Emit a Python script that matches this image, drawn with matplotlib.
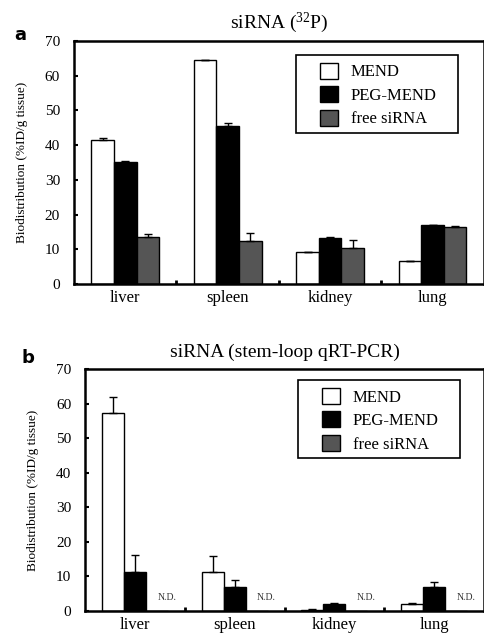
import numpy as np
import matplotlib.pyplot as plt
from matplotlib.patches import Rectangle

organs = ['liver', 'spleen', 'kidney', 'lung']
series = ['MEND', 'PEG-MEND', 'free siRNA']
colors = ['white', 'black', '#555555']

# panel a: siRNA (32P)
a_mend = [41.5, 64.5, 9.2, 6.5]
a_mend_err = [0.5, 0.0, 0.0, 0.0]
a_peg = [35.2, 45.5, 13.2, 17.0]
a_peg_err = [0.2, 0.8, 0.2, 0.1]
a_free = [13.5, 12.5, 10.5, 16.3]
a_free_err = [1.0, 2.3, 2.2, 0.4]

# panel b: stem-loop qRT-PCR (free siRNA not detected)
b_mend = [57.3, 11.3, 0.4, 2.0]
b_mend_err = [4.5, 4.7, 0.1, 0.4]
b_peg = [11.3, 7.0, 2.0, 7.0]
b_peg_err = [4.9, 2.1, 0.3, 1.3]
b_free = [np.nan, np.nan, np.nan, np.nan]
b_free_err = [0, 0, 0, 0]

serif = ['Liberation Serif', 'DejaVu Serif']
plt.rcParams['mathtext.fontset'] = 'custom'
plt.rcParams['mathtext.rm'] = 'Liberation Serif'

fig = plt.figure(figsize=(4.85, 6.35), dpi=100)


def draw_panel(ax, vals, errs, title, letter, letter_pos, box, leg_anchor, nd=False):
    x = np.arange(len(organs))
    w = 0.22
    for i, (v, e) in enumerate(zip(vals, errs)):
        pos = x + (i - 1) * w
        v = np.array(v, dtype=float)
        ax.bar(pos, np.nan_to_num(v), w, color=colors[i], edgecolor='black',
               linewidth=1.0, label=series[i], zorder=2)
        ok = ~np.isnan(v)
        ax.errorbar(pos[ok], v[ok], yerr=[np.zeros(ok.sum()), np.array(e)[ok]],
                    fmt='none', ecolor='black', elinewidth=1.0, capsize=3,
                    capthick=1.0, zorder=3)
        if nd:
            for p, vv in zip(pos, v):
                if np.isnan(vv):
                    ax.text(p + 0.1, 2.5, 'N.D.', family=serif, fontsize=7,
                            ha='center', va='bottom', color='#333333')
    ax.set_xlim(-0.5, len(organs) - 0.5)
    ax.set_ylim(0, 70)
    ax.set_yticks(np.arange(0, 71, 10))
    ax.set_xticks(x)
    ax.set_xticklabels(organs, family=serif, fontsize=12)
    ax.set_xticks(x[:-1] + 0.5, minor=True)
    ax.tick_params(axis='x', which='major', length=0, pad=4)
    ax.tick_params(axis='x', which='minor', direction='in', length=3, width=2)
    ax.tick_params(axis='y', direction='in', length=3, width=1.5, labelsize=11,
                   pad=10)
    for lab in ax.get_yticklabels():
        lab.set_family(serif)
    for s in ax.spines.values():
        s.set_linewidth(1.8)
    ax.set_ylabel('Biodistribution (%ID/g tissue)', family=serif, fontsize=9.5,
                  labelpad=12)
    ax.set_title(title, family=serif, fontsize=14, pad=9)

    # legend box drawn separately so its padding matches the original
    x0, y0, x1, y1 = box
    ax.add_patch(Rectangle((x0, y0), x1 - x0, y1 - y0, transform=ax.transAxes,
                           facecolor='white', edgecolor='black', linewidth=1.2,
                           zorder=4))
    leg = ax.legend(loc='upper left', bbox_to_anchor=leg_anchor,
                    prop={'family': serif, 'size': 12}, frameon=False,
                    handlelength=1.1, handleheight=1.1, borderpad=0,
                    labelspacing=0.35, handletextpad=0.75, borderaxespad=0)
    leg.set_zorder(5)
    ax.text(letter_pos[0], letter_pos[1], letter, transform=ax.transAxes,
            fontsize=13, fontweight='bold', family='DejaVu Sans',
            ha='center', va='center')


ax1 = fig.add_axes([0.1526, 0.5528, 0.845, 0.3827])
draw_panel(ax1, [a_mend, a_peg, a_free], [a_mend_err, a_peg_err, a_free_err],
           'siRNA ($\\mathregular{^{32}}$P)', 'a', (-0.13, 1.025),
           (0.541, 0.621, 0.937, 0.942), (0.6, 0.91))

ax2 = fig.add_axes([0.1753, 0.0378, 0.8227, 0.381])
draw_panel(ax2, [b_mend, b_peg, b_free], [b_mend_err, b_peg_err, b_free_err],
           'siRNA (stem-loop qRT-PCR)', 'b', (-0.143, 1.045),
           (0.534, 0.632, 0.94, 0.955), (0.594, 0.922), nd=True)

fig.savefig('out.png', dpi=100)
